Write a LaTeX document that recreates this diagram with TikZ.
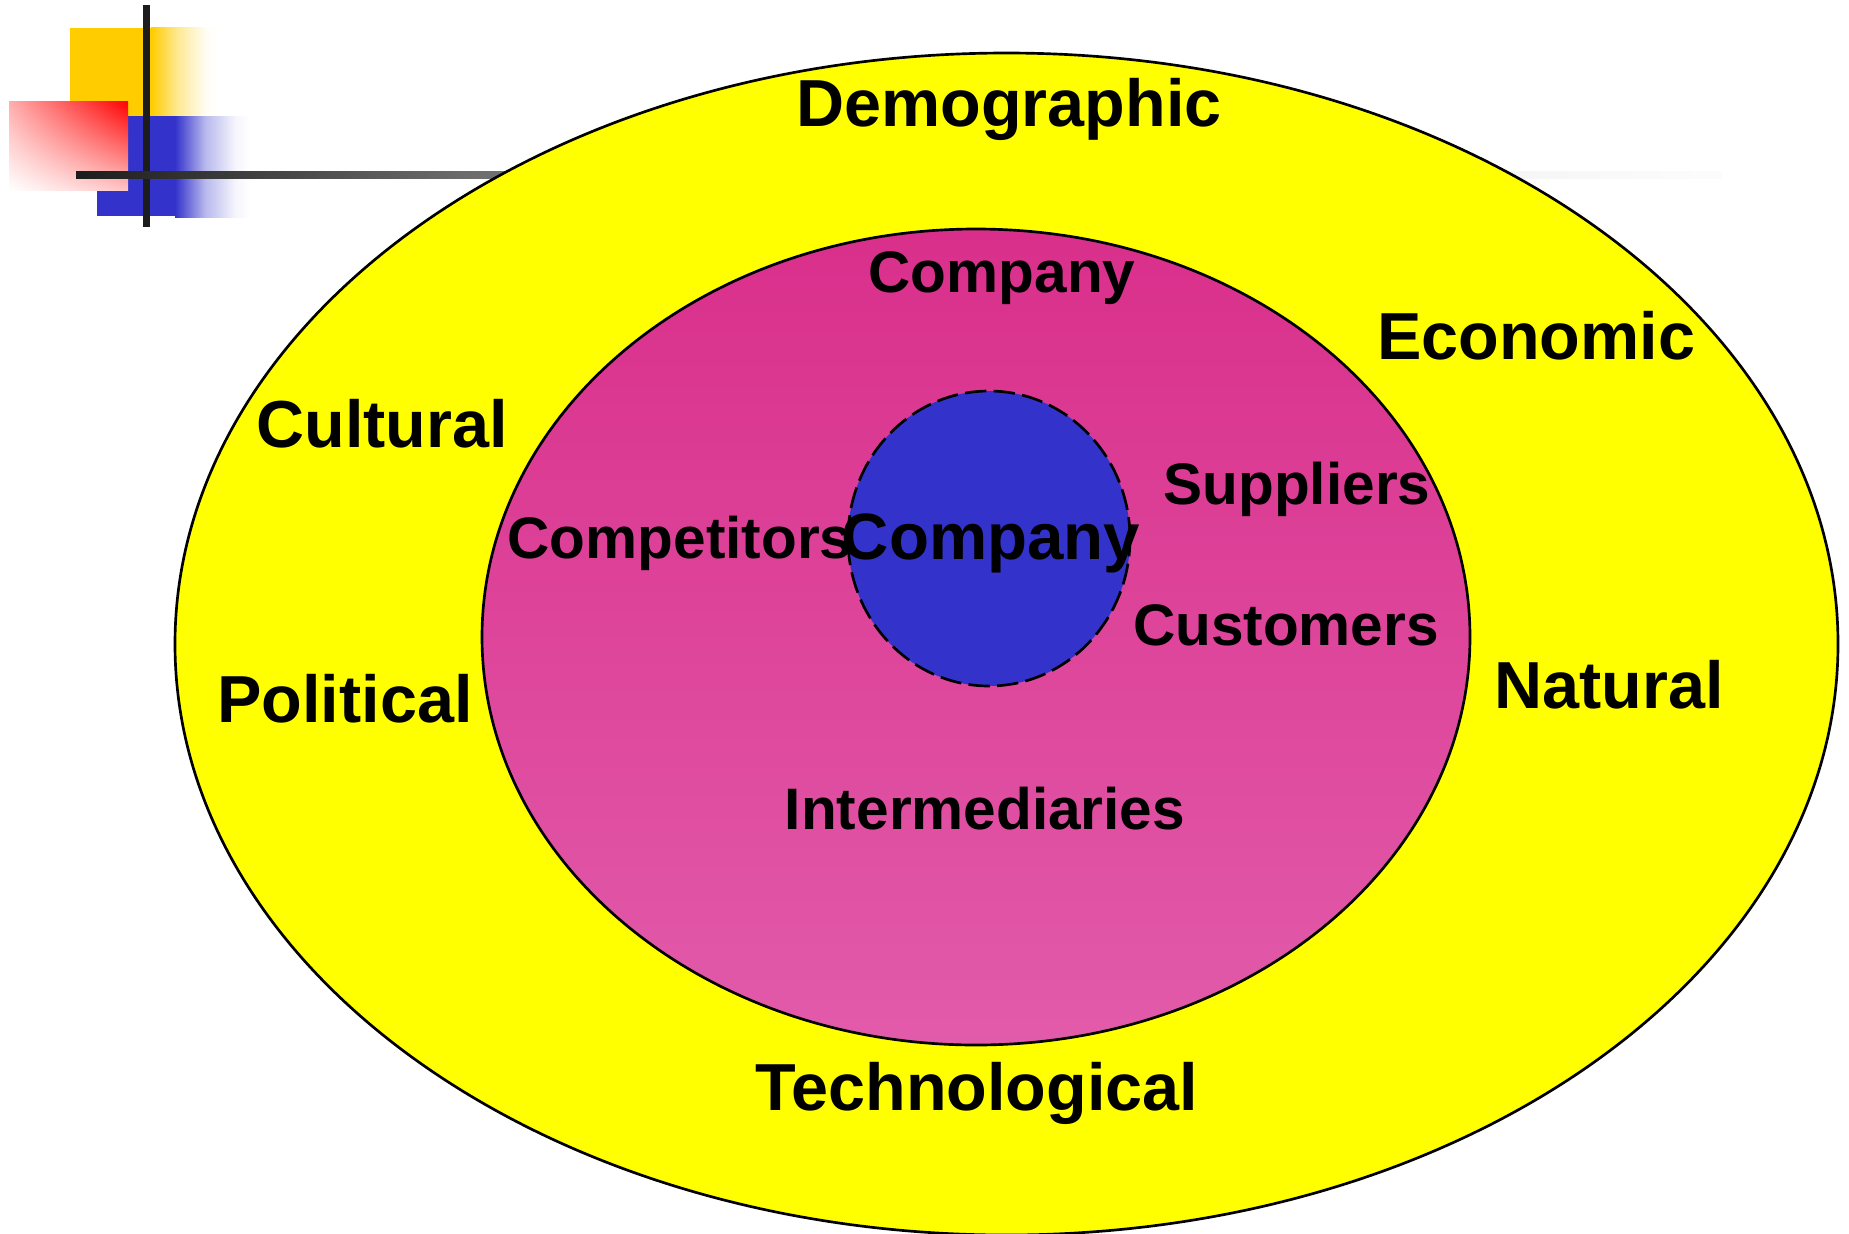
\documentclass[tikz,border=0pt]{standalone}
\usepackage{fontspec}
\setmainfont{Liberation Sans}
\usetikzlibrary{shapes.geometric,shadings}
\definecolor{deco}{HTML}{1C1C1C}
\definecolor{bluefill}{HTML}{3333CC}
\definecolor{goldfill}{HTML}{FFCC00}
\definecolor{yellowfill}{HTML}{FFFF00}
\definecolor{magtop}{HTML}{D92F8B}
\definecolor{magbot}{HTML}{E25BAA}
\definecolor{redtl}{HTML}{FFADAD}
\definecolor{redbr}{HTML}{FFC4C4}
\pgfdeclarehorizontalshading{fadegold}{100bp}{color(0bp)=(goldfill); color(25bp)=(goldfill); color(45bp)=(goldfill!42!white); color(66bp)=(goldfill!4!white); color(75bp)=(white); color(100bp)=(white)}
\pgfdeclarehorizontalshading{fadeblue}{100bp}{color(0bp)=(bluefill); color(25bp)=(bluefill); color(45bp)=(bluefill!35!white); color(65bp)=(bluefill!5!white); color(75bp)=(white); color(100bp)=(white)}
\pgfdeclarehorizontalshading{fadebar}{100bp}{color(0bp)=(deco); color(25bp)=(deco); color(36.7bp)=(black!58!white); color(68.9bp)=(black!3.5!white); color(75bp)=(black!1!white); color(100bp)=(black!1!white)}
\tikzset{
  frame/.style={shape=ellipse, draw=black, line width=2pt, inner sep=0pt, outer sep=0pt},
  outertext/.style={anchor=base, inner sep=0pt, font=\fontsize{49.9}{50}\selectfont\bfseries},
  innertext/.style={anchor=base, inner sep=0pt, font=\fontsize{43.9}{44}\selectfont\bfseries},
  coretext/.style={anchor=base, inner sep=0pt, font=\fontsize{49.1}{50}\selectfont\bfseries},
}
\begin{document}
\begin{tikzpicture}[x=0.75pt,y=-0.75pt]
\clip (0,0) rectangle (1849,1233);
% logo
\fill[goldfill] (70,28) rectangle (151,116);
\shade[shading=fadegold] (151,27) rectangle (218,116);
\fill[bluefill] (97,116) rectangle (175,216);
\shade[shading=fadeblue] (175,116) rectangle (250,217);
\shade[lower left=white, upper right=red, upper left=redtl, lower right=redbr] (9,101) rectangle (128,190);
\fill[deco] (143,5) rectangle (150,227);
\shade[shading=fadebar] (76,171) rectangle (1722,178);
% ellipses
\node[frame, fill=yellowfill, minimum width=1247.25pt, minimum height=886.5pt] (outer) at (1006.5,644) {};
\node[frame, top color=magtop, bottom color=magbot, minimum width=741pt, minimum height=612pt] (inner) at (976,637) {};
\node[frame, fill=bluefill, dash pattern=on 16pt off 5.5pt, minimum width=211.5pt, minimum height=221.25pt] (core) at (989,538.5) {};
% outer labels
\node[outertext] (demographic) at (1009,126) {Demographic};
\node[outertext] (economic) at (1536,359) {Economic};
\node[outertext] (cultural) at (382,447) {Cultural};
\node[outertext] (political) at (345,722) {Political};
\node[outertext] (natural) at (1609,708) {Natural};
\node[outertext] (technological) at (977,1110) {Technological};
% inner labels
\node[innertext] (companytop) at (1002,292) {Company};
\node[innertext] (suppliers) at (1297,504) {Suppliers};
\node[innertext] (competitors) at (680,558) {Competitors};
\node[innertext] (customers) at (1286,645) {Customers};
\node[innertext] (intermediaries) at (985,829) {Intermediaries};
% core label
\node[coretext] (companycore) at (991,559) {Company};
\end{tikzpicture}
\end{document}
